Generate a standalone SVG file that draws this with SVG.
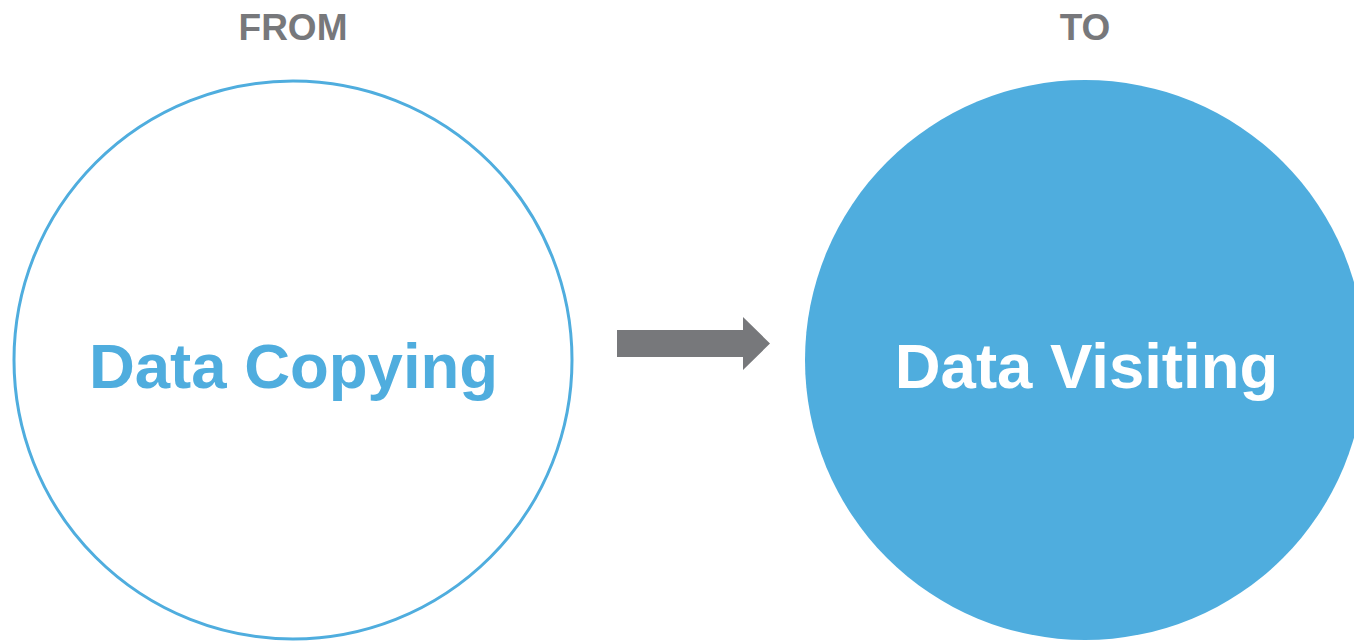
<svg xmlns="http://www.w3.org/2000/svg" width="1354" height="642" viewBox="0 0 1354 642">
  <style>
    .head { font-family: "Liberation Sans", Arial, sans-serif; font-weight: bold; font-size: 37px; fill: #77787b; text-anchor: middle; }
    .big { font-family: "Liberation Sans", Arial, sans-serif; font-weight: bold; font-size: 63.5px; text-anchor: middle; }
  </style>
  <rect width="1354" height="642" fill="#ffffff"/>
  <text class="head" x="293" y="40">FROM</text>
  <text class="head" x="1085" y="40">TO</text>
  <g id="from-node">
    <circle cx="293" cy="360" r="279" fill="#ffffff" stroke="#4fadde" stroke-width="3"/>
    <text class="big" x="293.5" y="388" fill="#4fadde">Data Copying</text>
  </g>
  <g id="to-node">
    <circle cx="1085" cy="360" r="280" fill="#4fadde"/>
    <text class="big" x="1086.5" y="388" fill="#ffffff">Data Visiting</text>
  </g>
  <g id="connectors">
    <polygon points="617,330 743,330 743,317 770,343.5 743,370 743,357 617,357" fill="#77787b"/>
  </g>
</svg>
